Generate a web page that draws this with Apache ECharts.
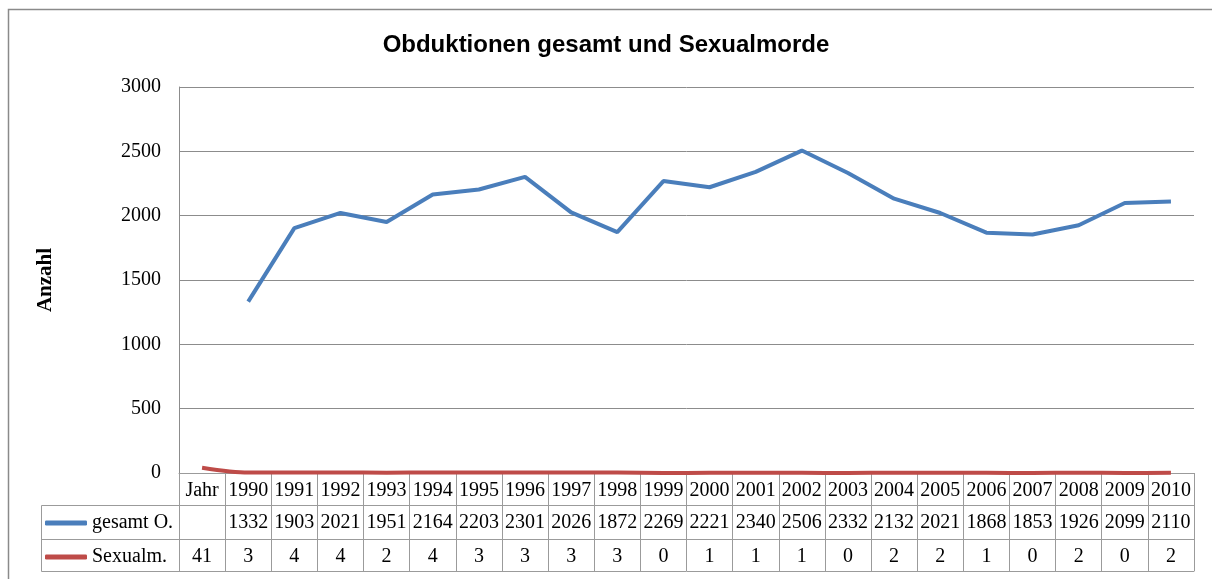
<!DOCTYPE html>
<html><head><meta charset="utf-8">
<script src="https://cdn.jsdelivr.net/npm/echarts@6/dist/echarts.min.js"></script>
<style>html,body{margin:0;padding:0;background:#fff}#c{width:1212px;height:579px}</style>
</head><body><div id="c"></div>
<script>
const categories = ['Jahr','1990','1991','1992','1993','1994','1995','1996','1997','1998','1999','2000','2001','2002','2003','2004','2005','2006','2007','2008','2009','2010'];
const gesamt = [null,1332,1903,2021,1951,2164,2203,2301,2026,1872,2269,2221,2340,2506,2332,2132,2021,1868,1853,1926,2099,2110];
const sexualm = [41,3,4,4,2,4,3,3,3,3,0,1,1,1,0,2,2,1,0,2,0,2];
const yTicks = [0,500,1000,1500,2000,2500,3000];
const seriesNames = ['gesamt O.','Sexualm.'];
const colors = ['#4A7EBB','#BE4B48'];

const serif = '"Liberation Serif", "DejaVu Serif", serif';
const sans = '"Liberation Sans", Arial, sans-serif';
const tableLine = '#9B9B9B';

function tableAxis(offset, rowH, labels, margin, showLabels) {
  return {
    type: 'category', data: categories, position: 'bottom', offset: offset,
    boundaryGap: true, gridIndex: 0,
    axisLine: {show: true, lineStyle: {color: tableLine, width: 1}},
    axisTick: {show: rowH > 0, interval: 0, length: rowH, lineStyle: {color: tableLine, width: 1}},
    axisLabel: {show: showLabels, interval: 0, margin: margin, fontFamily: serif, fontSize: 20, color: '#000',
      formatter: (v, i) => labels ? (labels[i] === null ? '' : String(labels[i])) : v},
    splitLine: {show: false}
  };
}

const chart = echarts.init(document.getElementById('c'), null, {renderer: 'canvas'});
chart.setOption({
  animation: false,
  backgroundColor: '#fff',
  title: {text: 'Obduktionen gesamt und Sexualmorde', left: 'center', top: 28,
    textStyle: {fontFamily: sans, fontSize: 24, fontWeight: 'bold', color: '#000'}},
  grid: {left: 179, right: 18, top: 87, bottom: 106, containLabel: false},
  legend: {orient: 'vertical', left: 45, top: 512, padding: 0, itemGap: 12, itemWidth: 42, itemHeight: 5,
    icon: 'roundRect', data: seriesNames,
    textStyle: {fontFamily: serif, fontSize: 20, color: '#000', lineHeight: 22}},
  xAxis: [
    tableAxis(0, 32, categories, 8, true),
    tableAxis(32, 34, gesamt, 8, true),
    tableAxis(66, 32, sexualm, 8, true),
    tableAxis(98, 0, null, 6, false)
  ],
  yAxis: {type: 'value', min: 0, max: 3000, interval: 500,
    name: 'Anzahl', nameLocation: 'middle', nameRotate: 90, nameGap: 123,
    nameTextStyle: {fontFamily: serif, fontSize: 21, fontWeight: 'bold', color: '#000'},
    axisLine: {show: true, lineStyle: {color: '#8C8C8C'}},
    axisTick: {show: false},
    axisLabel: {margin: 18, fontFamily: serif, fontSize: 20, color: '#000', padding: [4, 0, 0, 0],
      formatter: v => yTicks.includes(v) ? String(v) : ''},
    splitLine: {show: true, lineStyle: {color: '#8C8C8C', width: 1}}
  },
  series: [
    {name: seriesNames[0], type: 'line', data: gesamt, xAxisIndex: 0, showSymbol: false, symbol: 'none',
      lineStyle: {color: colors[0], width: 4}, itemStyle: {color: colors[0]}},
    {name: seriesNames[1], type: 'line', data: sexualm, xAxisIndex: 0, showSymbol: false, symbol: 'none', smooth: 0.3,
      lineStyle: {color: colors[1], width: 4}, itemStyle: {color: colors[1]}}
  ],
  graphic: [
    {type: 'rect', shape: {x: 8.5, y: 9.5, width: 1215, height: 600}, style: {fill: null, stroke: '#8A8A8A', lineWidth: 1.5}, silent: true, z: -1},
    {type: 'line', shape: {x1: 41.5, y1: 505.5, x2: 179, y2: 505.5}, style: {stroke: tableLine, lineWidth: 1}},
    {type: 'line', shape: {x1: 41.5, y1: 539.5, x2: 179, y2: 539.5}, style: {stroke: tableLine, lineWidth: 1}},
    {type: 'line', shape: {x1: 41.5, y1: 571.5, x2: 179, y2: 571.5}, style: {stroke: tableLine, lineWidth: 1}},
    {type: 'line', shape: {x1: 41.5, y1: 505.5, x2: 41.5, y2: 571.5}, style: {stroke: tableLine, lineWidth: 1}}
  ]
});
</script></body></html>
